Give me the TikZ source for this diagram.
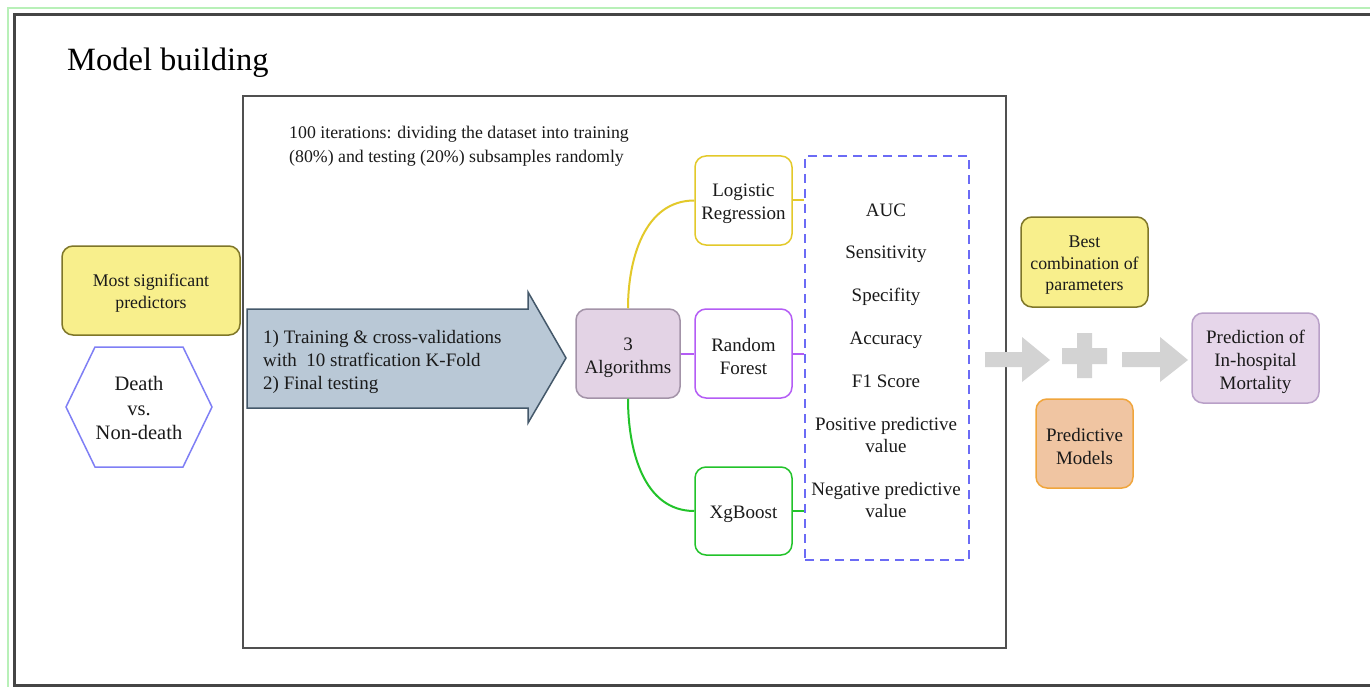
\documentclass[tikz,border=0pt]{standalone}
\usepackage{fontspec}
\setmainfont{Liberation Serif}
\usetikzlibrary{calc}
\definecolor{framegray}{HTML}{454545}
\definecolor{innergray}{HTML}{505050}
\definecolor{lightgreen}{HTML}{B8F0B8}
\definecolor{yfill}{HTML}{F8EF8C}
\definecolor{ydraw}{HTML}{7E7628}
\definecolor{algfill}{HTML}{E3D3E5}
\definecolor{algdraw}{HTML}{A393A8}
\definecolor{predfill}{HTML}{E6D6EA}
\definecolor{preddraw}{HTML}{B9A0C8}
\definecolor{pmfill}{HTML}{F0C5A2}
\definecolor{pmdraw}{HTML}{F0A53C}
\definecolor{lrcol}{HTML}{E3C92A}
\definecolor{rfcol}{HTML}{B45CF5}
\definecolor{xgcol}{HTML}{22C32A}
\definecolor{dashcol}{HTML}{6B6BF5}
\definecolor{hexcol}{HTML}{7F7FF5}
\definecolor{arrowfill}{HTML}{B9C8D6}
\definecolor{arrowdraw}{HTML}{44586A}
\definecolor{grayarrow}{HTML}{D3D3D3}
\definecolor{txt}{HTML}{1A1A1A}
\tikzset{
  rbox/.style={draw, rounded corners=11pt, line width=1.5pt, inner sep=0pt},
  btext/.style={align=center, inner sep=0pt, text=txt, font=\fontsize{19}{23}\selectfont},
  metric/.style={text=txt, align=center, font=\fontsize{19}{22}\selectfont},
  conn/.style={line width=2pt},
}
\begin{document}
\begin{tikzpicture}[x=1pt,y=-1pt]
\useasboundingbox (0,0) rectangle (1370,687);
\fill[white] (0,0) rectangle (1370,687);
% frames
\draw[lightgreen, line width=1.5pt] (1370,8) -- (8,8) -- (8,687);
\draw[framegray, line width=3pt] (1370,15) -- (14,15) -- (14,685) -- (1370,685);
\draw[innergray, line width=1.8pt] (243,96) rectangle (1006,648);
% title
\node[anchor=west, text=black, font=\fontsize{32.5}{38}\selectfont, inner sep=0pt] (title) at (67,63) {Model building};
% iterations text
\node[anchor=north west, align=left, text=txt, font=\fontsize{17.8}{24}\selectfont, inner sep=0pt] (iter) at (289,126)
  {100 iterations: dividing the dataset into training\\(80\%) and testing (20\%) subsamples randomly};
% left items
\node[rbox, fill=yfill, draw=ydraw, minimum width=178pt, minimum height=89pt] (msp) at (151,290.5) {};
\node[btext, font=\fontsize{17.8}{22}\selectfont] (msp-t) at ($(msp.center)+(0,3)$) {Most significant\\predictors};
\draw[hexcol, line width=1.5pt] (66,407) -- (95,347) -- (183,347) -- (212,407) -- (183,467) -- (95,467) -- cycle;
\node[align=center, text=txt, font=\fontsize{20.5}{24.5}\selectfont] (hex) at (139,408) {Death\\vs.\\Non-death};
% big arrow
\draw[fill=arrowfill, draw=arrowdraw, line width=1.5pt] (247,309) -- (528,309) -- (528,292) -- (566,358) -- (528,423) -- (528,408) -- (247,408) -- cycle;
\node[anchor=west, align=left, text=txt, font=\fontsize{19}{23}\selectfont, inner sep=0pt] (train) at (263,362)
  {1) Training \& cross-validations\\with\ \ 10 stratfication K-Fold\\2) Final testing};
% algorithms
\node[rbox, fill=algfill, draw=algdraw, minimum width=104pt, minimum height=89pt] (alg) at (628,353.5) {};
\node[btext] (alg-t) at ($(alg.center)+(0,4)$) {3\\Algorithms};
\node[rbox, fill=white, draw=lrcol, minimum width=97pt, minimum height=89pt] (lr) at (743.5,200.5) {};
\node[btext] (lr-t) at ($(lr.center)+(0,3)$) {Logistic\\Regression};
\node[rbox, fill=white, draw=rfcol, minimum width=97pt, minimum height=89pt] (rf) at (743.5,353.5) {};
\node[btext] (rf-t) at ($(rf.center)+(0,3)$) {Random\\Forest};
\node[rbox, fill=white, draw=xgcol, minimum width=97pt, minimum height=88pt] (xgb) at (743.5,511) {};
\node[btext] (xgb-t) at ($(xgb.center)+(0,3)$) {XgBoost};
% metrics box
\node[draw=dashcol, line width=1.6pt, dash pattern=on 9pt off 6pt, minimum width=164pt, minimum height=404pt, inner sep=0pt] (mbox) at (887,358) {};
\node[metric] (m1) at (886,210) {AUC};
\node[metric] (m2) at (886,254) {Sensitivity};
\node[metric] (m3) at (886,297) {Specifity};
\node[metric] (m4) at (886,340) {Accuracy};
\node[metric] (m5) at (886,381) {F1 Score};
\node[metric] (m6) at (886,435) {Positive predictive\\value};
\node[metric] (m7) at (886,500) {Negative predictive\\value};
% connectors
\draw[conn, lrcol] (alg.north) to[out=90, in=180] (lr.west);
\draw[conn, rfcol] (alg.east) -- (rf.west);
\draw[conn, xgcol] (alg.south) to[out=-90, in=180] (xgb.west);
\draw[conn, lrcol] (lr.east) -- (lr.east -| mbox.west);
\draw[conn, rfcol] (rf.east) -- (rf.east -| mbox.west);
\draw[conn, xgcol] (xgb.east) -- (xgb.east -| mbox.west);
% gray arrows and plus
\fill[grayarrow] (985,352) -- (1022,352) -- (1022,337) -- (1050,360) -- (1022,382) -- (1022,367) -- (985,367) -- cycle;
\fill[grayarrow] (1062,348) -- (1077,348) -- (1077,333) -- (1092,333) -- (1092,348) -- (1107,348) -- (1107,364) -- (1092,364) -- (1092,378) -- (1077,378) -- (1077,364) -- (1062,364) -- cycle;
\fill[grayarrow] (1122,352) -- (1160,352) -- (1160,337) -- (1188,360) -- (1160,382) -- (1160,367) -- (1122,367) -- cycle;
% right items
\node[rbox, fill=yfill, draw=ydraw, minimum width=127pt, minimum height=90pt] (best) at (1084.5,262) {};
\node[btext, font=\fontsize{17.8}{21.5}\selectfont] (best-t) at ($(best.center)+(0,3.5)$) {Best\\combination of\\parameters};
\node[rbox, fill=pmfill, draw=pmdraw, minimum width=97pt, minimum height=89pt] (pm) at (1084.5,443.5) {};
\node[btext] (pm-t) at ($(pm.center)+(0,2.5)$) {Predictive\\Models};
\node[rbox, fill=predfill, draw=preddraw, minimum width=127pt, minimum height=90pt] (pred) at (1255.5,358) {};
\node[btext] (pred-t) at ($(pred.center)+(0,4)$) {Prediction of\\In-hospital\\Mortality};
\end{tikzpicture}
\end{document}
